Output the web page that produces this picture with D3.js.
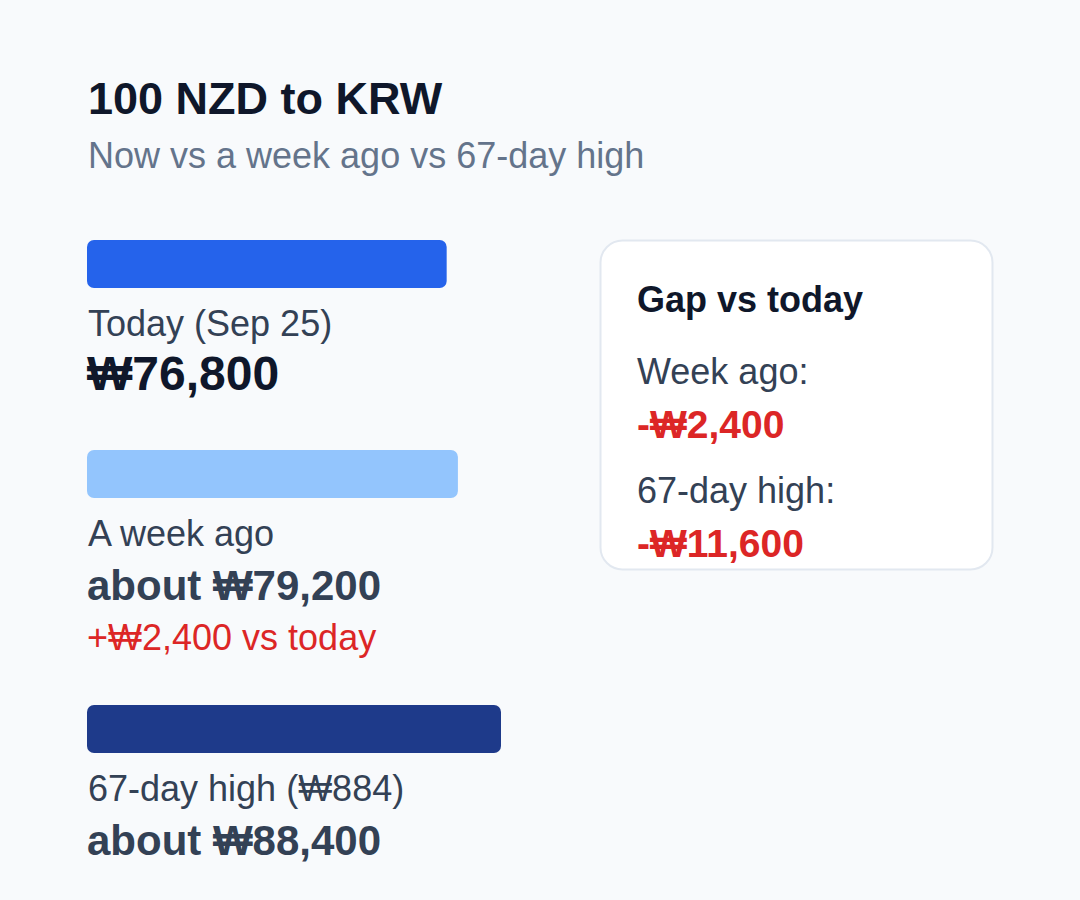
<!DOCTYPE html>
<html>
<head>
<meta charset="utf-8">
<script src="https://cdn.jsdelivr.net/npm/d3@7"></script>
<style>
  html, body { margin: 0; padding: 0; background: #f8fafc; }
  svg { display: block; font-family: "Liberation Sans", Arial, sans-serif; }
</style>
</head>
<body>
<div id="chart"></div>
<script>
var chartTitle = "100 NZD to KRW";
var chartSubtitle = "Now vs a week ago vs 67-day high";

// bars: today, a week ago, 67-day high
var barLabels = ["Today (Sep 25)", "A week ago", "67-day high (₩884)"];
var barValues = [76800, 79200, 88400];
var barValueText = ["₩76,800", "about ₩79,200", "about ₩88,400"];
var barNotes = ["", "+₩2,400 vs today", ""];
var barColors = ["#2563eb", "#93c5fd", "#1e3a8a"];

// side card
var gapTitle = "Gap vs today";
var gapLabels = ["Week ago:", "67-day high:"];
var gapValues = [-2400, -11600];

var width = 1080, height = 900;

var svg = d3.select("#chart")
    .append("svg")
        .attr("width", width)
        .attr("height", height);

svg.append("rect")
    .attr("width", width)
    .attr("height", height)
    .attr("fill", "#f8fafc");

// header
svg.append("text")
    .attr("x", 88).attr("y", 114)
    .style("font-size", "45px").style("font-weight", "bold")
    .style("fill", "#0f172a")
    .text(chartTitle);

svg.append("text")
    .attr("x", 88).attr("y", 168)
    .style("font-size", "36px")
    .style("fill", "#64748b")
    .text(chartSubtitle);

// x scale for bar lengths
var x = d3.scaleLinear()
    .domain([0, d3.max(barValues)])
    .range([0, 414]);

// vertical positions of each block (top of bar)
var blockTop = [240, 450, 705];

var blocks = svg.selectAll("g.block")
    .data(barValues)
    .enter()
    .append("g")
        .attr("class", "block")
        .attr("transform", function(d, i) { return "translate(87," + blockTop[i] + ")"; });

blocks.append("rect")
    .attr("width", function(d) { return x(d); })
    .attr("height", 48)
    .attr("rx", 7)
    .attr("fill", function(d, i) { return barColors[i]; });

blocks.append("text")
    .attr("x", 1).attr("y", 96)
    .style("font-size", "36px")
    .style("fill", "#334155")
    .text(function(d, i) { return barLabels[i]; });

blocks.append("text")
    .attr("x", 0).attr("y", 150)
    .style("font-size", function(d, i) { return i == 0 ? "48px" : "42px"; })
    .style("font-weight", "bold")
    .style("fill", function(d, i) { return i == 0 ? "#0f172a" : "#334155"; })
    .text(function(d, i) { return barValueText[i]; });

blocks.append("text")
    .attr("x", 0).attr("y", 200)
    .style("font-size", "36px")
    .style("fill", "#dc2626")
    .text(function(d, i) { return barNotes[i]; });

// gap card
var card = svg.append("g").attr("transform", "translate(600,240)");

card.append("rect")
    .attr("x", 0.5).attr("y", 0.5)
    .attr("width", 392).attr("height", 329)
    .attr("rx", 22)
    .attr("fill", "#ffffff")
    .attr("stroke", "#e2e8f0")
    .attr("stroke-width", 2);

card.append("text")
    .attr("x", 37).attr("y", 72)
    .style("font-size", "36px").style("font-weight", "bold")
    .style("fill", "#0f172a")
    .text(gapTitle);

var fmt = d3.format(",");
var gapRows = card.selectAll("g.gap")
    .data(gapValues)
    .enter()
    .append("g")
        .attr("class", "gap")
        .attr("transform", function(d, i) { return "translate(37," + (144 + i * 119) + ")"; });

gapRows.append("text")
    .style("font-size", "36px")
    .style("fill", "#334155")
    .text(function(d, i) { return gapLabels[i]; });

gapRows.append("text")
    .attr("y", 54)
    .style("font-size", "39px").style("font-weight", "bold")
    .style("fill", "#dc2626")
    .text(function(d) { return (d < 0 ? "-" : "+") + "₩" + fmt(Math.abs(d)); });
</script>
</body>
</html>
